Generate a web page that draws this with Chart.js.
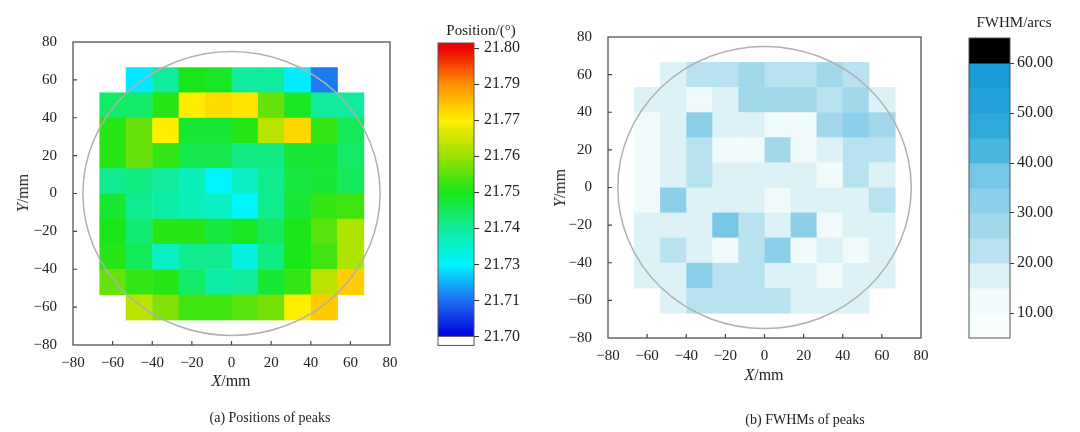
<!DOCTYPE html>
<html>
<head>
<meta charset="utf-8">
<script src="https://cdn.jsdelivr.net/npm/chart.js@4.4.1/dist/chart.umd.min.js"></script>
<style>
  body { margin: 0; background: #fff; width: 1080px; height: 432px; overflow: hidden; position: relative;
         font-family: "Liberation Serif", "Times New Roman", serif; color: #222; }
  canvas { position: absolute; }
  .lbl { position: absolute; white-space: nowrap; transform: translate(-50%, -50%); }
  .rot { transform: translate(-50%, -50%) rotate(-90deg); }
</style>
</head>
<body>
<canvas id="posMap" width="410" height="400" style="left:0;top:0"></canvas>
<canvas id="posBar" width="120" height="360" style="left:420px;top:0"></canvas>
<canvas id="fwhmMap" width="410" height="400" style="left:540px;top:0"></canvas>
<canvas id="fwhmBar" width="130" height="360" style="left:950px;top:0"></canvas>

<div class="lbl rot" style="left:23px;top:193px;font-size:16px"><i>Y</i>/mm</div>
<div class="lbl" style="left:231px;top:381px;font-size:16px"><i>X</i>/mm</div>
<div class="lbl" style="left:270px;top:418px;font-size:14px">(a) Positions of peaks</div>
<div class="lbl" style="left:481px;top:30px;font-size:15px">Position/(°)</div>

<div class="lbl rot" style="left:560px;top:188px;font-size:16px"><i>Y</i>/mm</div>
<div class="lbl" style="left:764px;top:375px;font-size:16px"><i>X</i>/mm</div>
<div class="lbl" style="left:805px;top:420px;font-size:14px">(b) FWHMs of peaks</div>
<div class="lbl" style="left:1014px;top:22px;font-size:15px">FWHM/arcs</div>

<script>
// cell centres (mm), rows go from top (y=60) to bottom (y=-60)
const xCenters = [-60, -46.7, -33.3, -20, -6.7, 6.7, 20, 33.3, 46.7, 60];
const yCenters = [60, 46.7, 33.3, 20, 6.7, -6.7, -20, -33.3, -46.7, -60];

// peak positions (deg), null = no measurement
const positionRows = [
  [null, 21.728, 21.740, 21.750, 21.749, 21.740, 21.740, 21.729, 21.712, null],
  [21.744, 21.744, 21.751, 21.770, 21.774, 21.772, 21.756, 21.749, 21.740, 21.740],
  [21.751, 21.756, 21.770, 21.748, 21.748, 21.751, 21.763, 21.775, 21.752, 21.745],
  [21.751, 21.756, 21.752, 21.746, 21.746, 21.742, 21.742, 21.748, 21.748, 21.744],
  [21.741, 21.742, 21.740, 21.737, 21.730, 21.736, 21.741, 21.747, 21.748, 21.745],
  [21.748, 21.741, 21.739, 21.737, 21.736, 21.730, 21.741, 21.748, 21.752, 21.753],
  [21.750, 21.743, 21.751, 21.751, 21.747, 21.749, 21.745, 21.750, 21.755, 21.762],
  [21.751, 21.745, 21.736, 21.741, 21.741, 21.733, 21.742, 21.750, 21.753, 21.762],
  [21.756, 21.752, 21.751, 21.744, 21.739, 21.740, 21.748, 21.752, 21.763, 21.777],
  [null, 21.763, 21.758, 21.753, 21.753, 21.755, 21.757, 21.770, 21.778, null]
];

// FWHM (arcsec)
const fwhmRows = [
  [null, 19, 23, 23, 27, 22, 22, 27, 23, null],
  [18, 18, 11, 16, 27, 27, 27, 23, 27, 18],
  [12, 17, 31, 17, 17, 12, 12, 27, 32, 27],
  [11, 17, 23, 11, 11, 26, 11, 17, 23, 23],
  [11, 17, 23, 17, 17, 17, 17, 12, 23, 17],
  [13, 32, 17, 17, 17, 11, 17, 17, 17, 23],
  [17, 17, 17, 36, 23, 17, 32, 11, 17, 17],
  [17, 24, 17, 11, 23, 32, 11, 19, 11, 17],
  [17, 17, 31, 23, 23, 17, 17, 12, 17, 17],
  [null, 17, 23, 23, 23, 23, 17, 17, 17, null]
];

// position colour bar: labels are evenly spaced, colours keyed to them
const posTickLabels = ['21.70', '21.71', '21.73', '21.74', '21.75', '21.76', '21.77', '21.79', '21.80'];
const posTickValues = [21.70, 21.71, 21.73, 21.74, 21.75, 21.76, 21.77, 21.79, 21.80];
const posColors = ['#0000dd', '#1e6ff0', '#00f5ff', '#10ec9c', '#18e618', '#9be000', '#ffee00', '#ff9000', '#ee0000'];

// FWHM colour bar bands
const fwhmBandEdges = [5, 10, 15, 20, 25, 30, 35, 40, 45, 50, 55, 60, 65];
const fwhmBandColors = ['#f8fdfd', '#f2fbfc', '#dcf2f6', '#b8e2f0', '#a3d8ec', '#8ccfe9', '#76c6e5',
                        '#48b6df', '#2fa9dc', '#22a2d9', '#1a9bd6', '#000000'];
const fwhmTicks = [10, 20, 30, 40, 50, 60];

const CELL = 13.33;     // cell size in mm
const WAFER_R = 75;     // wafer outline radius in mm

Chart.defaults.font.family = '"Liberation Serif", "Times New Roman", serif';
Chart.defaults.font.size = 15;
Chart.defaults.color = '#222';
Chart.defaults.animation = false;

function hexToRgb(h) {
  const n = parseInt(h.slice(1), 16);
  return [(n >> 16) & 255, (n >> 8) & 255, n & 255];
}
function mix(a, b, t) {
  const p = hexToRgb(a), q = hexToRgb(b);
  return 'rgb(' + p.map((c, i) => Math.round(c + (q[i] - c) * t)).join(',') + ')';
}
function posColor(v) {
  if (v <= posTickValues[0]) return posColors[0];
  for (let i = 1; i < posTickValues.length; i++) {
    if (v <= posTickValues[i]) {
      const t = (v - posTickValues[i - 1]) / (posTickValues[i] - posTickValues[i - 1]);
      return mix(posColors[i - 1], posColors[i], t);
    }
  }
  return posColors[posColors.length - 1];
}
function fwhmColor(v) {
  for (let i = 1; i < fwhmBandEdges.length; i++) {
    if (v < fwhmBandEdges[i]) return fwhmBandColors[i - 1];
  }
  return fwhmBandColors[fwhmBandColors.length - 1];
}

function cellsFrom(rows) {
  const out = [];
  rows.forEach((row, r) => row.forEach((v, c) => {
    if (v !== null) out.push({ x: xCenters[c], y: yCenters[r], v: v });
  }));
  return out;
}

function minus(v) { return String(v).replace('-', '\u2212'); }

function heatPlugin(colorOf) {
  return {
    id: 'heat',
    beforeDatasetsDraw(chart) {
      const { ctx, chartArea: a, scales: { x, y } } = chart;
      ctx.save();
      ctx.beginPath(); ctx.rect(a.left, a.top, a.width, a.height); ctx.clip();
      chart.data.datasets[0].data.forEach(c => {
        const x0 = x.getPixelForValue(c.x - CELL / 2), x1 = x.getPixelForValue(c.x + CELL / 2);
        const y0 = y.getPixelForValue(c.y + CELL / 2), y1 = y.getPixelForValue(c.y - CELL / 2);
        ctx.fillStyle = colorOf(c.v);
        ctx.fillRect(x0, y0, x1 - x0 + 0.6, y1 - y0 + 0.6);
      });
      const cx = x.getPixelForValue(0), cy = y.getPixelForValue(0);
      const rx = x.getPixelForValue(WAFER_R) - cx, ry = cy - y.getPixelForValue(WAFER_R);
      ctx.beginPath();
      ctx.ellipse(cx, cy, rx, ry, 0, 0, Math.PI * 2);
      ctx.strokeStyle = '#b0b0b0';
      ctx.lineWidth = 1.5;
      ctx.stroke();
      ctx.restore();
    },
    afterDraw(chart) {
      const { ctx, chartArea: a, scales: { x, y } } = chart;
      ctx.save();
      ctx.strokeStyle = '#444';
      ctx.lineWidth = 1.2;
      ctx.strokeRect(a.left, a.top, a.width, a.height);
      ctx.beginPath();
      x.ticks.forEach(t => {
        if (t.value > x.min && t.value < x.max) {
          const px = x.getPixelForValue(t.value);
          ctx.moveTo(px, a.bottom); ctx.lineTo(px, a.bottom - 4);
        }
      });
      y.ticks.forEach(t => {
        if (t.value > y.min && t.value < y.max) {
          const py = y.getPixelForValue(t.value);
          ctx.moveTo(a.left, py); ctx.lineTo(a.left + 4, py);
        }
      });
      ctx.stroke();
      ctx.restore();
    }
  };
}

function mapChart(id, rows, colorOf, yWidth, pad) {
  return new Chart(document.getElementById(id), {
    type: 'scatter',
    data: { datasets: [{ data: cellsFrom(rows), pointRadius: 0, pointHoverRadius: 0 }] },
    options: {
      responsive: false,
      layout: { padding: pad },
      plugins: { legend: { display: false }, tooltip: { enabled: false } },
      scales: {
        x: {
          min: -80, max: 80,
          grid: { display: false }, border: { display: false },
          ticks: { stepSize: 20, autoSkip: false, maxRotation: 0, padding: 1, callback: minus },
          afterFit: s => { s.height = 30; }
        },
        y: {
          min: -80, max: 80,
          grid: { display: false }, border: { display: false },
          ticks: { stepSize: 20, padding: 8, callback: minus },
          afterFit: s => { s.width = yWidth; }
        }
      }
    },
    plugins: [heatPlugin(colorOf)]
  });
}

mapChart('posMap', positionRows, posColor, 73, { left: 0, top: 42, right: 20, bottom: 25 });
mapChart('fwhmMap', fwhmRows, fwhmColor, 68, { left: 0, top: 37, right: 29, bottom: 32 });

// position colour bar (continuous)
const POS_TOP = 8.14, POS_BOTTOM = -0.25;
new Chart(document.getElementById('posBar'), {
  type: 'scatter',
  data: { datasets: [{ data: [] }] },
  options: {
    responsive: false,
    layout: { padding: { left: 18, top: 43, right: 0, bottom: 13 } },
    plugins: { legend: { display: false }, tooltip: { enabled: false } },
    scales: {
      x: { display: false, min: 0, max: 1 },
      y: {
        position: 'right', min: POS_BOTTOM, max: POS_TOP,
        border: { display: false },
        grid: { drawOnChartArea: false, drawTicks: true, tickLength: 5, color: '#333' },
        ticks: { stepSize: 1, includeBounds: false, padding: 5, font: { size: 16 },
                 callback: v => posTickLabels[v] },
        afterFit: s => { s.width = 66; }
      }
    }
  },
  plugins: [{
    id: 'gradientBar',
    beforeDatasetsDraw(chart) {
      const { ctx, chartArea: a, scales: { y } } = chart;
      const p0 = y.getPixelForValue(0), pTop = y.getPixelForValue(POS_TOP);
      const g = ctx.createLinearGradient(0, p0, 0, pTop);
      posColors.forEach((c, i) => g.addColorStop(Math.min(1, i / POS_TOP), c));
      g.addColorStop(1, posColors[posColors.length - 1]);
      ctx.save();
      ctx.fillStyle = g;
      ctx.fillRect(a.left, pTop, a.width, p0 - pTop);
      ctx.fillStyle = '#fff';
      ctx.fillRect(a.left, p0, a.width, a.bottom - p0);
      ctx.strokeStyle = '#555';
      ctx.lineWidth = 1;
      ctx.strokeRect(a.left, a.top, a.width, a.height);
      ctx.beginPath(); ctx.moveTo(a.left, p0); ctx.lineTo(a.right, p0); ctx.stroke();
      ctx.restore();
    }
  }]
});

// FWHM colour bar (banded)
new Chart(document.getElementById('fwhmBar'), {
  type: 'scatter',
  data: { datasets: [{ data: [] }] },
  options: {
    responsive: false,
    layout: { padding: { left: 19, top: 38, right: 0, bottom: 22 } },
    plugins: { legend: { display: false }, tooltip: { enabled: false } },
    scales: {
      x: { display: false, min: 0, max: 1 },
      y: {
        position: 'right',
        min: fwhmBandEdges[0], max: fwhmBandEdges[fwhmBandEdges.length - 1],
        border: { display: false },
        grid: { drawOnChartArea: false, drawTicks: true, tickLength: 4, color: '#333' },
        afterBuildTicks: s => { s.ticks = fwhmTicks.map(v => ({ value: v })); },
        ticks: { padding: 3, font: { size: 16 }, callback: v => Number(v).toFixed(2) },
        afterFit: s => { s.width = 70; }
      }
    }
  },
  plugins: [{
    id: 'bandBar',
    beforeDatasetsDraw(chart) {
      const { ctx, chartArea: a, scales: { y } } = chart;
      ctx.save();
      fwhmBandColors.forEach((c, i) => {
        const top = y.getPixelForValue(fwhmBandEdges[i + 1]);
        const bot = y.getPixelForValue(fwhmBandEdges[i]);
        ctx.fillStyle = c;
        ctx.fillRect(a.left, top, a.width, bot - top + 0.5);
      });
      ctx.strokeStyle = '#555';
      ctx.lineWidth = 1;
      ctx.strokeRect(a.left, a.top, a.width, a.height);
      ctx.restore();
    }
  }]
});
</script>
</body>
</html>
